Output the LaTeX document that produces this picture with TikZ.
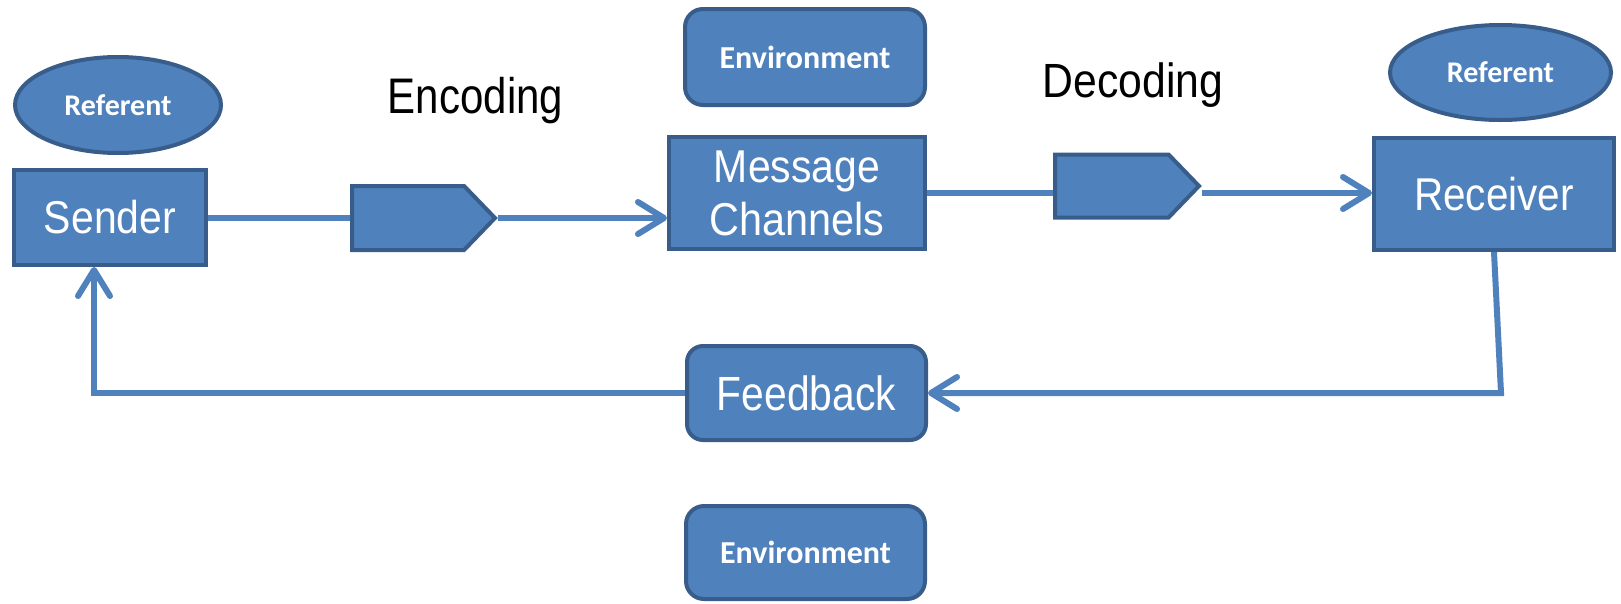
\documentclass[tikz,border=0pt]{standalone}
\usepackage{fontspec}
\usepackage{graphicx}
\setmainfont{Liberation Sans}
\newfontfamily\calb{Carlito}
\usetikzlibrary{arrows.meta,shapes.symbols,shapes.geometric}
\definecolor{fillb}{HTML}{4F81BD}
\definecolor{edgeb}{HTML}{385D8A}
\newcommand{\sq}[2]{\scalebox{#1}[1]{#2}}
\tikzset{
  box/.style={draw=edgeb, fill=fillb, line width=4pt, inner sep=0pt, text=white},
  sqbox/.style={box, rectangle},
  rbox/.style={box, rectangle, rounded corners=18pt, font=\calb\bfseries\fontsize{32}{38}\selectfont},
  oval/.style={box, ellipse, font=\calb\bfseries\fontsize{30}{36}\selectfont},
  sig/.style={box, signal, signal to=east, signal pointer angle=92, anchor=west},
  conn/.style={draw=fillb, line width=6pt},
  arr/.style={conn, -{Straight Barb[length=26pt,width=32pt,round]}},
  lbl/.style={inner sep=0pt, anchor=base, font=\fontsize{50}{60}\selectfont},
  big/.style={font=\fontsize{46}{53}\selectfont}
}
\begin{document}
\begin{tikzpicture}[x=1pt,y=-1pt]
\useasboundingbox (0,0) rectangle (1621,603);
% nodes
\node[oval, minimum width=206pt, minimum height=96pt] (refl) at (118,105) {Referent};
\node[oval, minimum width=221pt, minimum height=95pt] (refr) at (1500.5,72.5) {Referent};
\node[rbox, minimum width=240pt, minimum height=96pt] (envt) at (805,57) {Environment};
\node[rbox, minimum width=239pt, minimum height=93pt] (envb) at (805.5,552.5) {Environment};
\node[sqbox, big, minimum width=192pt, minimum height=95pt] (snd) at (110,217.5) {\sq{0.89}{Sender}};
\node[sqbox, big, minimum width=256pt, minimum height=112pt, align=center] (msg) at (797,193) {\sq{0.89}{Message}\\\sq{0.90}{Channels}};
\node[sqbox, big, minimum width=240pt, minimum height=112pt] (rcv) at (1494,194) {\sq{0.88}{Receiver}};
\node[rbox, font=\fontsize{48}{55}\selectfont, minimum width=239pt, minimum height=94pt, rounded corners=16pt] (fb) at (806.5,393) {\sq{0.85}{Feedback}};
\node[sig, minimum width=143pt, minimum height=64pt] (enc) at (350,218) {};
\node[sig, minimum width=144pt, minimum height=63pt] (dec) at (1053,186) {};
\node[lbl] (enct) at (475.5,113) {\sq{0.84}{Encoding}};
\node[lbl, font=\fontsize{48}{58}\selectfont] (dect) at (1133,97) {\sq{0.89}{Decoding}};
% helper coordinates
\coordinate (c1) at (1501,393);
\coordinate (c2) at (94,393);
% connectors
\draw[conn] (snd.east) -- (snd.east -| enc.west);
\draw[arr] (enc.east) -- (enc.east -| msg.west);
\draw[conn] (msg.east) -- (msg.east -| dec.west);
\draw[arr] (dec.east |- msg.east) -- (msg.east -| rcv.west);
\draw[arr] (rcv.south) -- (c1) -- (fb.east);
\draw[arr] (fb.west) -- (c2) -- ([xshift=-16pt]snd.south);
\end{tikzpicture}
\end{document}
